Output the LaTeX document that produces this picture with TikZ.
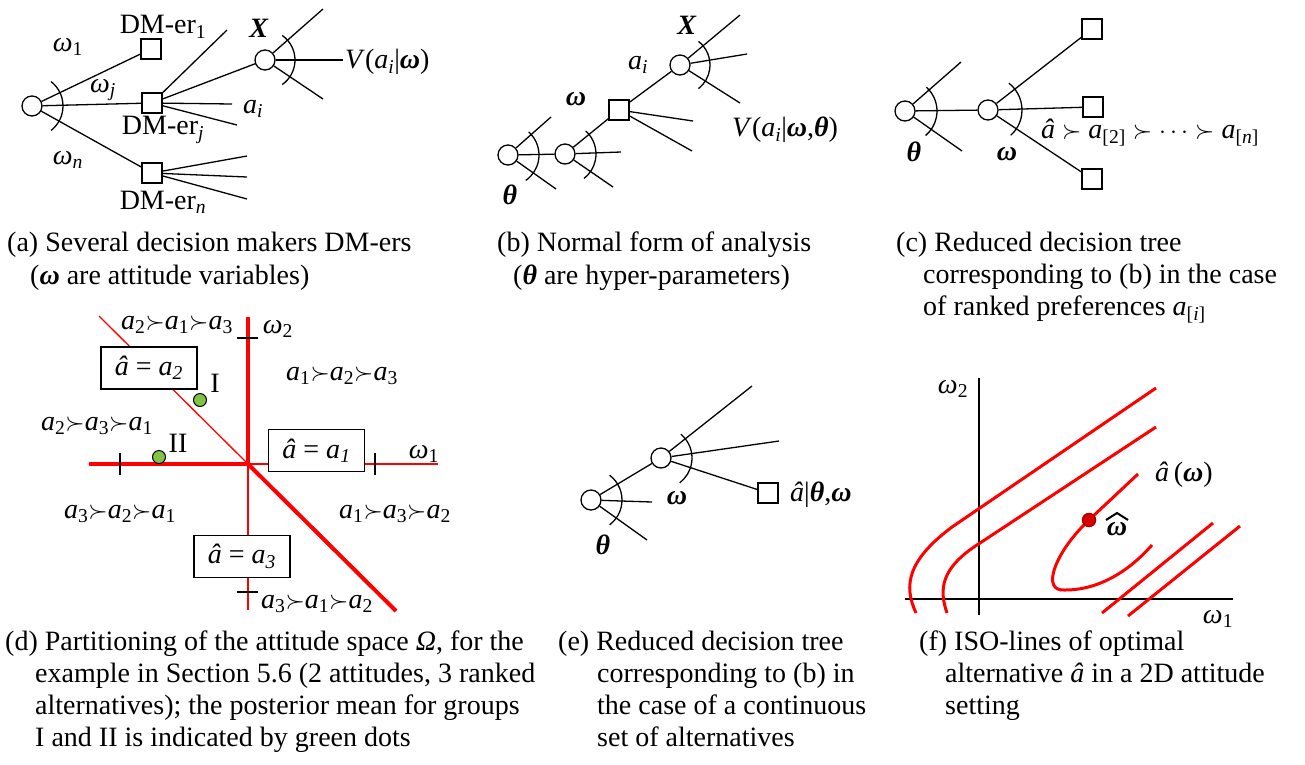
\documentclass[tikz,border=0pt]{standalone}
\usepackage{fontspec}
\setmainfont{Liberation Serif}
\usetikzlibrary{calc}
\newcommand{\bi}[1]{\textbf{\textit{#1}}}
\newcommand{\sbs}[1]{\textsubscript{#1}}
\newcommand{\rk}[3]{\textit{a}\sbs{#1}$\succ$\textit{a}\sbs{#2}$\succ$\textit{a}\sbs{#3}}
\definecolor{dotgreen}{RGB}{130,195,70}
\definecolor{darkred}{RGB}{170,0,0}
\begin{document}
\begin{tikzpicture}[x=1pt,y=-1pt,
  every node/.style={font=\fontsize{28}{33}\selectfont, inner sep=0pt},
  chance/.style={circle, draw, line width=1.3pt, minimum size=20pt, fill=white},
  decision/.style={rectangle, draw, line width=1.3pt, minimum size=20pt, fill=white},
  branch/.style={line width=1.3pt},
  arcline/.style={line width=1.3pt},
  tickmark/.style={line width=1.3pt},
  redthick/.style={red, line width=4pt},
  redthin/.style={red, line width=1.3pt},
  choicebox/.style={draw, line width=1.5pt, fill=white, minimum width=96pt, minimum height=42pt},
  gdot/.style={circle, draw, line width=1pt, fill=dotgreen, minimum size=13pt},
  rdot/.style={circle, draw=darkred, line width=1.5pt, fill=red!85!black, minimum size=13pt},
  isoline/.style={red, line width=3pt},
  axisline/.style={line width=2pt},
  hatmark/.style={line width=2pt, line join=miter},
  capline/.style={anchor=base west}
]
\useasboundingbox (0,0) rectangle (1305,764);

% ---------------- (a)
\node[chance] (aR) at (32,106) {};
\node[decision] (aD1) at (151,49) {};
\node[decision] (aDj) at (152,103) {};
\node[decision] (aDn) at (152,173) {};
\node[chance] (aX) at (265,60) {};
\coordinate (aj1) at (227,30);
\coordinate (aj3) at (232,104);
\coordinate (aj4) at (237,125);
\coordinate (an1) at (247,156);
\coordinate (an2) at (247,177);
\coordinate (an3) at (247,199);
\coordinate (ax1) at (323,9);
\coordinate (ax2) at (343,60);
\coordinate (ax3) at (323,99);
\draw[branch] (aR) -- (aD1);
\draw[branch] (aR) -- (aDj);
\draw[branch] (aR) -- (aDn);
\draw[branch] (aDj) -- (aj1);
\draw[branch] (aDj) -- (aX);
\draw[branch] (aDj) -- (aj3);
\draw[branch] (aDj) -- (aj4);
\draw[branch] (aDn) -- (an1);
\draw[branch] (aDn) -- (an2);
\draw[branch] (aDn) -- (an3);
\draw[branch] (aX) -- (ax1);
\draw[branch] (aX) -- (ax2);
\draw[branch] (aX) -- (ax3);
\draw[arcline] (aR.center) ++(-52:31) arc[start angle=-52, end angle=52, radius=31];
\draw[arcline] (aX.center) ++(-55:30) arc[start angle=-55, end angle=55, radius=30];
\node (aw1) at (68,47) {\textit{ω}\sbs{1}};
\node (awj) at (103,90) {\textit{ω}\sbs{\textit{j}}};
\node (awn) at (68,160) {\textit{ω}\sbs{\textit{n}}};
\node (aL1) at (163,27) {DM-er\sbs{1}};
\node (aLj) at (163,130) {DM-er\sbs{\textit{j}}};
\node (aLn) at (163,202) {DM-er\sbs{\textit{n}}};
\node (aai) at (253,109) {\textit{a}\sbs{\textit{i}}};
\node (aXl) at (259,28) {\bi{X}};
\node[anchor=west] (aV) at (345,62) {\textit{V}(\textit{a}\sbs{\textit{i}}|\bi{ω})};

% ---------------- (b)
\node[chance] (bT) at (508,155) {};
\node[chance] (bW) at (565,154) {};
\node[decision] (bD) at (619,110) {};
\node[chance] (bX) at (680,65) {};
\coordinate (bt1) at (551,117);
\coordinate (bt3) at (556,189);
\coordinate (bw2) at (621,152);
\coordinate (bw3) at (613,187);
\coordinate (bd2) at (693,121);
\coordinate (bd3) at (692,151);
\coordinate (bx1) at (740,15);
\coordinate (bx2) at (747,54);
\coordinate (bx3) at (740,103);
\draw[branch] (bT) -- (bt1);
\draw[branch] (bT) -- (bW);
\draw[branch] (bT) -- (bt3);
\draw[branch] (bW) -- (bD);
\draw[branch] (bW) -- (bw2);
\draw[branch] (bW) -- (bw3);
\draw[branch] (bD) -- (bX);
\draw[branch] (bD) -- (bd2);
\draw[branch] (bD) -- (bd3);
\draw[branch] (bX) -- (bx1);
\draw[branch] (bX) -- (bx2);
\draw[branch] (bX) -- (bx3);
\draw[arcline] (bT.center) ++(-48:31) arc[start angle=-48, end angle=55, radius=31];
\draw[arcline] (bW.center) ++(-48:31) arc[start angle=-48, end angle=52, radius=31];
\draw[arcline] (bX.center) ++(-52:30) arc[start angle=-52, end angle=52, radius=30];
\node (bXl) at (687,25) {\bi{X}};
\node (bai) at (638,65) {\textit{a}\sbs{\textit{i}}};
\node (bwl) at (576,99) {\bi{ω}};
\node (btl) at (510,195) {\bi{θ}};
\node[anchor=west] (bV) at (732,130) {\textit{V}(\textit{a}\sbs{\textit{i}}|\bi{ω},\bi{θ})};

% ---------------- (c)
\node[chance] (cT) at (905,111) {};
\node[chance] (cW) at (988,110) {};
\node[decision] (cD1) at (1092,29) {};
\node[decision] (cD2) at (1093,107) {};
\node[decision] (cD3) at (1092,179) {};
\coordinate (ct1) at (961,62);
\coordinate (ct3) at (962,151);
\draw[branch] (cT) -- (ct1);
\draw[branch] (cT) -- (cW);
\draw[branch] (cT) -- (ct3);
\draw[branch] (cW) -- (cD1);
\draw[branch] (cW) -- (cD2);
\draw[branch] (cW) -- (cD3);
\draw[arcline] (cT.center) ++(-48:32) arc[start angle=-48, end angle=50, radius=32];
\draw[arcline] (cW.center) ++(-52:34) arc[start angle=-52, end angle=48, radius=34];
\node (ctl) at (914,152) {\bi{θ}};
\node (cwl) at (1007,154) {\bi{ω}};
\node (crank) at (1150,133) {\textit{â} $\succ$ \textit{a}\sbs{[2]} $\succ$ $\cdots$ $\succ$ \textit{a}\sbs{[\textit{n}]}};

% ---------------- (d)
\coordinate (dO) at (248,464);
\coordinate (dN) at (248,317);
\coordinate (dS) at (248,610);
\coordinate (dW) at (89,464);
\coordinate (dE) at (438,464);
\coordinate (dNW) at (99,316);
\coordinate (dSE) at (396,611);
\draw[redthin] (dO) -- (dS);
\draw[redthin] (dO) -- (dE);
\draw[redthin] (dNW) -- (dO);
\draw[redthick] (dO) -- (dN);
\draw[redthick] (dW) -- (dO);
\draw[redthick] (dO) -- (dSE);
\draw[tickmark] (237,338) -- (258,338);
\draw[tickmark] (237,592) -- (258,592);
\draw[tickmark] (120,453) -- (120,475);
\draw[tickmark] (375,453) -- (375,475);
\node[choicebox] (dB2) at (149,368) {\textit{â} = \textit{a}\sbs{\textit{2}}};
\node[choicebox] (dB1) at (316.5,450.5) {\textit{â} = \textit{a}\sbs{\textit{1}}};
\node[choicebox] (dB3) at (242,556.5) {\textit{â} = \textit{a}\sbs{\textit{3}}};
\node (dr213) at (177,325) {\rk213};
\node (dr123) at (342,376) {\rk123};
\node (dr231) at (97,426) {\rk231};
\node (dr321) at (120,514) {\rk321};
\node (dr132) at (395,514) {\rk132};
\node (dr312) at (317,604) {\rk312};
\node (dw2) at (278,329) {\textit{ω}\sbs{2}};
\node (dw1) at (424,454) {\textit{ω}\sbs{1}};
\node (dIl) at (215,383) {I};
\node (dIIl) at (178,443) {II};
\node[gdot] (dI) at (200,400) {};
\node[gdot] (dII) at (159,457) {};

% ---------------- (e)
\node[chance] (eT) at (591,500) {};
\node[chance] (eW) at (661,458) {};
\node[decision] (eD) at (768,493) {};
\coordinate (et2) at (652,502);
\coordinate (et3) at (647,540);
\coordinate (ew1) at (752,386);
\coordinate (ew2) at (779,441);
\draw[branch] (eT) -- (eW);
\draw[branch] (eT) -- (et2);
\draw[branch] (eT) -- (et3);
\draw[branch] (eW) -- (ew1);
\draw[branch] (eW) -- (ew2);
\draw[branch] (eW) -- (eD);
\draw[arcline] (eT.center) ++(-53:31) arc[start angle=-53, end angle=53, radius=31];
\draw[arcline] (eW.center) ++(-50:31) arc[start angle=-50, end angle=53, radius=31];
\node (ewl) at (677,498) {\bi{ω}};
\node (etl) at (603,545) {\bi{θ}};
\node[anchor=west] (eal) at (790,495) {\textit{â}|\bi{θ},\bi{ω}};

% ---------------- (f)
\coordinate (fx0) at (905,599);
\coordinate (fx1) at (1233,599);
\coordinate (fy0) at (979,378);
\coordinate (fy1) at (979,615);
\draw[axisline] (fx0) -- (fx1);
\draw[axisline] (fy0) -- (fy1);
\draw[isoline] (916,613) .. controls (903,585) and (908,560) .. (952,527) -- (1156,388);
\draw[isoline] (947,613) .. controls (939,590) and (940,568) .. (980,543) -- (1156,427);
\draw[isoline] (1138,474) -- (1089,520) .. controls (1055,552) and (1040,592) .. (1065,590) .. controls (1100,590) and (1130,570) .. (1152,545);
\draw[isoline] (1102,613) -- (1213,523);
\draw[isoline] (1128,616) -- (1240,526);
\node[rdot] (fdot) at (1089,520) {};
\node (fw2) at (953,389) {\textit{ω}\sbs{2}};
\node (fw1) at (1218,619) {\textit{ω}\sbs{1}};
\node[anchor=west] (fal) at (1155,475) {\textit{â}\,(\bi{ω})};
\node (fwh) at (1117,529) {\bi{ω}};
\draw[hatmark] (1106,520) -- (1117,513) -- (1128,520);

% ---------------- captions
\node[capline] (ca1) at (7,251) {(a) Several decision makers DM-ers};
\node[capline] (ca2) at (30,284) {(\bi{ω} are attitude variables)};
\node[capline] (cb1) at (497,251) {(b) Normal form of analysis};
\node[capline] (cb2) at (513,284) {(\bi{θ} are hyper-parameters)};
\node[capline] (cc1) at (896,251) {(c) Reduced decision tree};
\node[capline] (cc2) at (923,283) {corresponding to (b) in the case};
\node[capline] (cc3) at (923,315) {of ranked preferences \textit{a}\sbs{[\textit{i}]}};
\node[capline] (cd1) at (5,650) {(d) Partitioning of the attitude space \textit{Ω}, for the};
\node[capline] (cd2) at (35,682) {example in Section 5.6 (2 attitudes, 3 ranked};
\node[capline] (cd3) at (35,714) {alternatives); the posterior mean for groups};
\node[capline] (cd4) at (35,746) {I and II is indicated by green dots};
\node[capline] (ce1) at (558,650) {(e) Reduced decision tree};
\node[capline] (ce2) at (597,682) {corresponding to (b) in};
\node[capline] (ce3) at (597,714) {the case of a continuous};
\node[capline] (ce4) at (597,746) {set of alternatives};
\node[capline] (cf1) at (919,650) {(f) ISO-lines of optimal};
\node[capline] (cf2) at (945,682) {alternative \textit{â} in a 2D attitude};
\node[capline] (cf3) at (945,714) {setting};
\end{tikzpicture}
\end{document}
